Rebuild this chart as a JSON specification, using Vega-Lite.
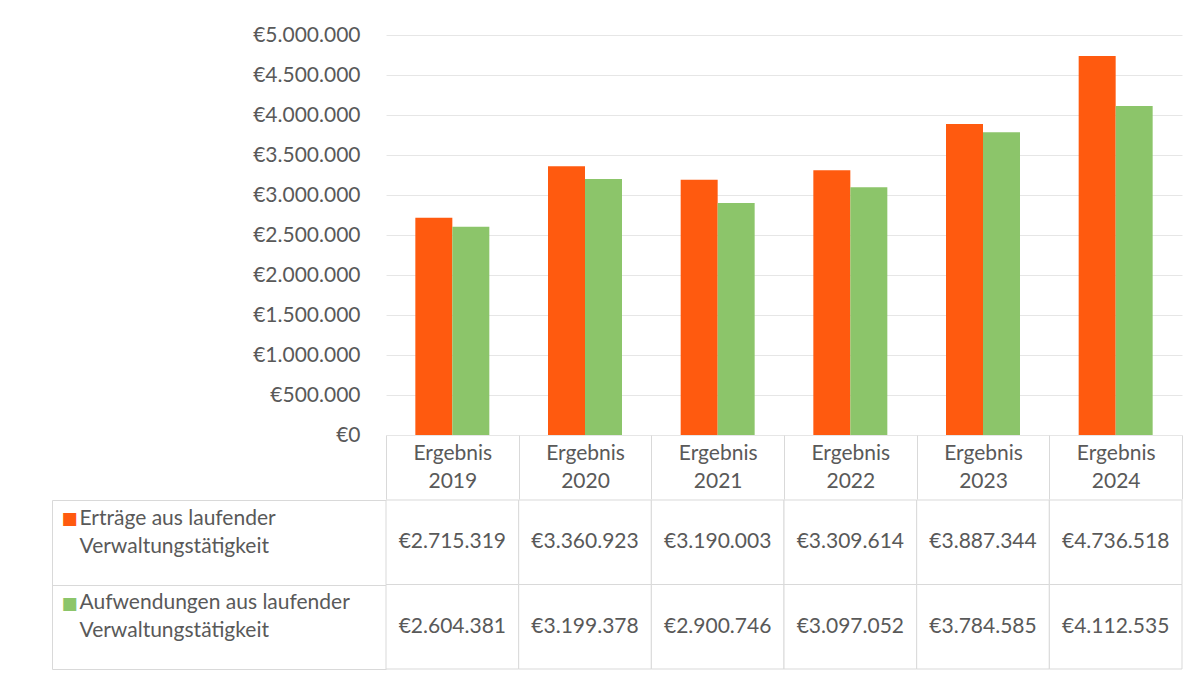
{
  "$schema": "https://vega.github.io/schema/vega-lite/v6.json",
  "padding": {"left": 51, "top": 24, "right": 10, "bottom": 5},
  "background": "white",
  "spacing": -12,
  "config": {
    "locale": {"number": {"decimal": ",", "thousands": ".", "grouping": [3], "currency": ["€", ""]}},
    "view": {"stroke": null},
    "font": "Lato",
    "axis": {"labelFont": "Lato", "labelFontSize": 21, "labelColor": "#595959", "title": null, "labelLimit": 400}
  },
  "data": {"values": [
    {"jahr": "Ergebnis 2019", "serie": "Erträge aus laufender Verwaltungstätigkeit", "wert": 2715319},
    {"jahr": "Ergebnis 2019", "serie": "Aufwendungen aus laufender Verwaltungstätigkeit", "wert": 2604381},
    {"jahr": "Ergebnis 2020", "serie": "Erträge aus laufender Verwaltungstätigkeit", "wert": 3360923},
    {"jahr": "Ergebnis 2020", "serie": "Aufwendungen aus laufender Verwaltungstätigkeit", "wert": 3199378},
    {"jahr": "Ergebnis 2021", "serie": "Erträge aus laufender Verwaltungstätigkeit", "wert": 3190003},
    {"jahr": "Ergebnis 2021", "serie": "Aufwendungen aus laufender Verwaltungstätigkeit", "wert": 2900746},
    {"jahr": "Ergebnis 2022", "serie": "Erträge aus laufender Verwaltungstätigkeit", "wert": 3309614},
    {"jahr": "Ergebnis 2022", "serie": "Aufwendungen aus laufender Verwaltungstätigkeit", "wert": 3097052},
    {"jahr": "Ergebnis 2023", "serie": "Erträge aus laufender Verwaltungstätigkeit", "wert": 3887344},
    {"jahr": "Ergebnis 2023", "serie": "Aufwendungen aus laufender Verwaltungstätigkeit", "wert": 3784585},
    {"jahr": "Ergebnis 2024", "serie": "Erträge aus laufender Verwaltungstätigkeit", "wert": 4736518},
    {"jahr": "Ergebnis 2024", "serie": "Aufwendungen aus laufender Verwaltungstätigkeit", "wert": 4112535}
  ]},
  "vconcat": [
    {
      "width": 796,
      "height": 400,
      "mark": {"type": "bar"},
      "encoding": {
        "x": {
          "field": "jahr", "type": "nominal", "sort": null,
          "scale": {"padding": 0},
          "axis": {
            "domain": false, "grid": false, "ticks": true, "tickBand": "extent",
            "tickSize": 64, "tickColor": "#d9d9d9", "labelAngle": 0,
            "labelExpr": "split(datum.label, ' ')", "labelLineHeight": 28,
            "labelPadding": -57, "labelBaseline": "top",
            "minExtent": 64, "maxExtent": 64
          }
        },
        "y": {
          "field": "wert", "type": "quantitative",
          "scale": {"domain": [0, 5000000]},
          "axis": {
            "values": [0, 500000, 1000000, 1500000, 2000000, 2500000, 3000000, 3500000, 4000000, 4500000, 5000000],
            "format": "$,.0f", "domain": false, "ticks": false, "tickSize": 0,
            "labelPadding": 26, "gridColor": "#e6e6e6",
            "minExtent": 334, "maxExtent": 334
          }
        },
        "xOffset": {"field": "serie", "type": "nominal", "sort": null, "scale": {"paddingInner": 0, "paddingOuter": 0.793}},
        "color": {
          "field": "serie", "type": "nominal", "sort": null,
          "scale": {"range": ["#FF5A0F", "#8CC56A"]}, "legend": null
        }
      }
    },
    {
      "width": 796,
      "height": 169,
      "layer": [
        {
          "mark": {"type": "rect", "fill": "white", "stroke": "#d9d9d9", "strokeWidth": 1},
          "encoding": {
            "x": {"field": "jahr", "type": "nominal", "sort": null, "scale": {"padding": 0}, "axis": null},
            "y": {
              "field": "serie", "type": "nominal", "sort": null, "scale": {"padding": 0},
              "axis": {
                "orient": "left", "offset": 334, "domain": true, "domainColor": "#d9d9d9",
                "ticks": false, "tickSize": 0, "grid": false,
                "labelExpr": "'■'", "labelFont": "DejaVu Sans", "labelFontSize": 17,
                "labelAlign": "left", "labelBaseline": "middle", "labelPadding": -9, "labelOffset": -23,
                "labelColor": {"condition": {"test": "indexof(datum.value, 'Ertr') === 0", "value": "#FF5A0F"}, "value": "#8CC56A"},
                "minExtent": 0, "maxExtent": 0
              }
            }
          }
        },
        {
          "mark": {"type": "text", "font": "Lato", "fontSize": 21, "color": "#595959"},
          "encoding": {
            "x": {"field": "jahr", "type": "nominal", "sort": null, "axis": null},
            "y": {
              "field": "serie", "type": "nominal", "sort": null,
              "axis": {
                "orient": "left", "domain": false, "grid": false, "ticks": true, "tickBand": "extent",
                "tickSize": 334, "tickColor": "#d9d9d9",
                "labelExpr": "split(replace(datum.label, ' Verwaltung', '|Verwaltung'), '|')",
                "labelAlign": "left", "labelBaseline": "middle", "labelLineHeight": 28,
                "labelPadding": -27, "labelOffset": -24,
                "minExtent": 334, "maxExtent": 334
              }
            },
            "text": {"field": "wert", "type": "quantitative", "format": "$,.0f"}
          }
        }
      ],
      "resolve": {"axis": {"y": "independent"}}
    }
  ]
}
